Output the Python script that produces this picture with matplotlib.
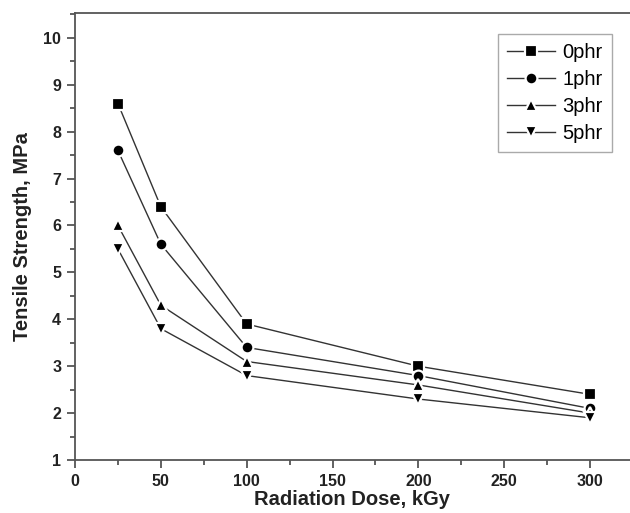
import matplotlib
matplotlib.use("Agg")
import matplotlib.pyplot as plt
from matplotlib.ticker import MultipleLocator

dose = [25, 50, 100, 200, 300]
labels = ["0phr", "1phr", "3phr", "5phr"]
phr0 = [8.6, 6.4, 3.9, 3.0, 2.4]
phr1 = [7.6, 5.6, 3.4, 2.8, 2.1]
phr3 = [6.0, 4.3, 3.1, 2.6, 2.0]
phr5 = [5.5, 3.8, 2.8, 2.3, 1.9]
series = [phr0, phr1, phr3, phr5]
markers = ["s", "o", "^", "v"]

plt.rcParams['font.family'] = ['Liberation Sans', 'DejaVu Sans']

W, H = 630, 513
fig = plt.figure(figsize=(6.3, 5.13), dpi=100)
left, bottom, top = 75, 460, 13
ax = fig.add_axes([left/W, 1-bottom/H, 1-left/W, (bottom-top)/H])

handles = []
for vals, m, lab in zip(series, markers, labels):
    h, = ax.plot(dose, vals, color="#333333", lw=1.0, marker=m, markersize=8.5,
                 markerfacecolor="black", markeredgecolor="white", markeredgewidth=1.6,
                 label=lab)
    handles.append(h)

ax.set_xlim(0, 323.3)
ax.set_ylim(1, 10.53)
ax.xaxis.set_major_locator(MultipleLocator(50))
ax.xaxis.set_minor_locator(MultipleLocator(25))
ax.yaxis.set_major_locator(MultipleLocator(1))
ax.yaxis.set_minor_locator(MultipleLocator(0.5))
ax.tick_params(which="major", direction="out", length=6, width=1.3, color="#555555", pad=4)
ax.tick_params(which="minor", direction="out", length=3.5, width=1.3, color="#555555")
for lbl in ax.get_xticklabels() + ax.get_yticklabels():
    lbl.set_fontweight("bold")
    lbl.set_fontsize(11.5)
    lbl.set_color("#222222")
for s in ["left", "bottom", "top"]:
    ax.spines[s].set_color("#555555")
    ax.spines[s].set_linewidth(1.3)
ax.spines["right"].set_visible(False)

ax.set_xlabel("Radiation Dose, kGy", fontsize=14.5, fontweight="bold", color="#222222", labelpad=1)
ax.set_ylabel("Tensile Strength, MPa", fontsize=14.5, fontweight="bold", color="#222222", labelpad=8)

fig.legend(handles=handles, labels=labels, loc="upper left",
           bbox_to_anchor=(498/W, 1-34/H), fontsize=14.5, frameon=True, fancybox=False,
           edgecolor="#aaaaaa", framealpha=1, handlelength=2.4, handletextpad=0.35,
           borderpad=0.45, labelspacing=0.4, markerscale=1.0, borderaxespad=0)

fig.savefig("out.png", dpi=100)
